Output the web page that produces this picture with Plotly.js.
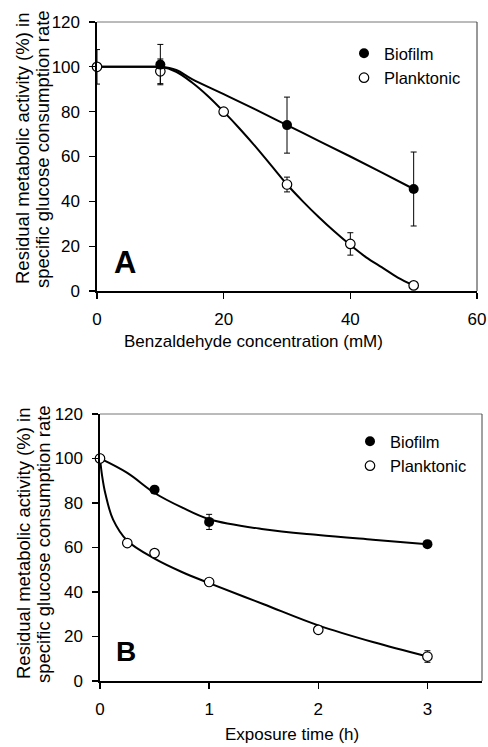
<!DOCTYPE html>
<html>
<head>
<meta charset="utf-8">
<script src="https://cdn.plot.ly/plotly-3.0.1.min.js"></script>
<style>html,body{margin:0;padding:0;background:#fff;}</style>
</head>
<body>
<div id="chart" style="width:488px;height:747px;"></div>
<script>
// ---------- Panel A data (Benzaldehyde concentration, mM) ----------
const concA = [0, 10, 20, 30, 40, 50];
const bioConcA = [10, 30, 50];
const bioValA = [101, 74, 45.5];
const bioErrA = [9, 12.5, 16.5];
const plankValA = [100, 98, 80, 47.5, 21, 2.5];
const plankErrA = [7.7, 5.5, 1.5, 3.3, 5, 1];
// fitted curves
const bioCurveXA = [0, 9, 10, 12.5, 15, 20, 25, 30, 35, 40, 45, 50];
const bioCurveYA = [100, 100, 100, 98.6, 94.5, 87.8, 81, 74, 67, 60, 52.8, 45.5];
const plankCurveXA = [0, 9, 10, 12.5, 15, 17.5, 20, 22.5, 25, 27.5, 30, 32.5, 35, 37.5, 40, 42.5, 45, 47.5, 50];
const plankCurveYA = [100, 100, 100, 97.8, 93, 87, 80, 72.5, 64.5, 56, 47.5, 40, 33, 26.5, 20.5, 15, 10.5, 6, 2.5];

// ---------- Panel B data (Exposure time, h) ----------
const bioTimeB = [0, 0.5, 1, 3];
const bioValB = [100, 86, 71.5, 61.5];
const bioErrB = [0, 0, 3.4, 1];
const plankTimeB = [0, 0.25, 0.5, 1, 2, 3];
const plankValB = [100, 62, 57.5, 44.5, 23, 11];
const plankErrB = [0, 0.8, 0.8, 1.5, 1.5, 2.6];
const bioCurveXB = [0, 0.25, 0.5, 0.75, 1, 1.5, 2, 2.5, 3];
const bioCurveYB = [100, 93.5, 84.5, 78, 72.7, 68.2, 65.6, 63.5, 61.5];
const plankCurveXB = [0, 0.02, 0.05, 0.12, 0.25, 0.5, 0.75, 1, 1.5, 2, 2.5, 3];
const plankCurveYB = [100, 92, 84, 72.5, 63, 55, 49, 44, 34.5, 25, 17.5, 11];

const yTicks = [0, 20, 40, 60, 80, 100, 120];
const xTicksA = [0, 20, 40, 60];
const xTicksB = [0, 1, 2, 3];

const labels = {
  yLine1: 'Residual metabolic activity (%) in',
  yLine2: 'specific glucose consumption rate',
  xA: 'Benzaldehyde concentration (mM)',
  xB: 'Exposure time (h)',
  bio: 'Biofilm',
  plank: 'Planktonic'
};

// ---------- layout helpers ----------
const W = 488, H = 747;
const px = x => x / W;
const py = y => 1 - y / H;
const FONT = 'Liberation Sans, Arial, Helvetica, sans-serif';

const curveLine = {color: 'black', width: 2, shape: 'spline', smoothing: 1};
const bioMarker = {symbol: 'circle', size: 10, color: 'black', line: {width: 0}};
const plankMarker = {symbol: 'circle', size: 9.5, color: 'white', line: {color: 'black', width: 1.2}};
const err = arr => ({type: 'data', array: arr, visible: true, color: 'black', thickness: 1, width: 3});

const traces = [
  // Panel A
  {x: bioCurveXA, y: bioCurveYA, xaxis: 'x', yaxis: 'y', mode: 'lines', line: curveLine, showlegend: false, hoverinfo: 'skip'},
  {x: plankCurveXA, y: plankCurveYA, xaxis: 'x', yaxis: 'y', mode: 'lines', line: curveLine, showlegend: false, hoverinfo: 'skip'},
  {x: concA, y: plankValA, error_y: err(plankErrA), xaxis: 'x', yaxis: 'y', mode: 'markers', marker: plankMarker,
   name: labels.plank, legend: 'legend', legendrank: 2, cliponaxis: false},
  {x: bioConcA, y: bioValA, error_y: err(bioErrA), xaxis: 'x', yaxis: 'y', mode: 'markers', marker: bioMarker,
   name: labels.bio, legend: 'legend', legendrank: 1, cliponaxis: false},
  // Panel B
  {x: bioCurveXB, y: bioCurveYB, xaxis: 'x2', yaxis: 'y2', mode: 'lines', line: curveLine, showlegend: false, hoverinfo: 'skip'},
  {x: plankCurveXB, y: plankCurveYB, xaxis: 'x2', yaxis: 'y2', mode: 'lines', line: curveLine, showlegend: false, hoverinfo: 'skip'},
  {x: bioTimeB, y: bioValB, error_y: err(bioErrB), xaxis: 'x2', yaxis: 'y2', mode: 'markers', marker: bioMarker,
   name: labels.bio, legend: 'legend2', legendrank: 1, cliponaxis: false},
  {x: plankTimeB, y: plankValB, error_y: err(plankErrB), xaxis: 'x2', yaxis: 'y2', mode: 'markers', marker: plankMarker,
   name: labels.plank, legend: 'legend2', legendrank: 2, cliponaxis: false}
];

const baseAxis = {
  showline: true, linecolor: 'black', linewidth: 1.6, mirror: false,
  showgrid: false, zeroline: false, ticks: 'outside', ticklen: 6, tickwidth: 1.3, tickcolor: 'black',
  tickfont: {family: FONT, size: 17, color: 'black'}, fixedrange: true
};

const legendCommon = {
  font: {family: FONT, size: 16.5, color: 'black'}, bgcolor: 'rgba(0,0,0,0)', borderwidth: 0,
  xanchor: 'left', yanchor: 'top', traceorder: 'normal', itemsizing: 'trace', tracegroupgap: 0
};

const layout = {
  width: W, height: H,
  margin: {l: 0, r: 0, t: 0, b: 0},
  paper_bgcolor: 'white', plot_bgcolor: 'white',
  font: {family: FONT, color: 'black'},
  xaxis: Object.assign({}, baseAxis, {domain: [px(97), px(477)], range: [0, 60], tickvals: xTicksA, anchor: 'y', ticklabelstandoff: 6}),
  yaxis: Object.assign({}, baseAxis, {domain: [py(291), py(22)], range: [0, 120], tickvals: yTicks, anchor: 'x', ticklabelstandoff: 6}),
  xaxis2: Object.assign({}, baseAxis, {domain: [px(100), px(482)], range: [0, 3.5], tickvals: xTicksB, anchor: 'y2', ticklabelstandoff: 6}),
  yaxis2: Object.assign({}, baseAxis, {domain: [py(681), py(414)], range: [0, 120], tickvals: yTicks, anchor: 'x2', ticklabelstandoff: 6}),
  legend: Object.assign({}, legendCommon, {x: px(344), y: py(36)}),
  legend2: Object.assign({}, legendCommon, {x: px(350), y: py(424)}),
  shapes: [
    {type: 'line', xref: 'x domain', yref: 'y domain', x0: 0, x1: 1, y0: 1, y1: 1, line: {color: '#777', width: 1}},
    {type: 'line', xref: 'x domain', yref: 'y domain', x0: 1, x1: 1, y0: 0, y1: 1, line: {color: '#333', width: 1}},
    {type: 'line', xref: 'x2 domain', yref: 'y2 domain', x0: 0, x1: 1, y0: 1, y1: 1, line: {color: '#777', width: 1}},
    {type: 'line', xref: 'x2 domain', yref: 'y2 domain', x0: 1, x1: 1, y0: 0, y1: 1, line: {color: '#444', width: 1}}
  ],
  annotations: [
    {text: labels.yLine1, xref: 'paper', yref: 'paper', x: px(22), y: py(149), textangle: -90, showarrow: false,
     xanchor: 'center', yanchor: 'middle', font: {family: FONT, size: 18.5, color: 'black'}},
    {text: labels.yLine2, xref: 'paper', yref: 'paper', x: px(42), y: py(149), textangle: -90, showarrow: false,
     xanchor: 'center', yanchor: 'middle', font: {family: FONT, size: 18.5, color: 'black'}},
    {text: labels.xA, xref: 'paper', yref: 'paper', x: px(254), y: py(342), showarrow: false,
     xanchor: 'center', yanchor: 'middle', font: {family: FONT, size: 17, color: 'black'}},
    {text: 'A', xref: 'paper', yref: 'paper', x: px(125), y: py(263), showarrow: false,
     xanchor: 'center', yanchor: 'middle', font: {family: FONT, size: 31, color: 'black', weight: 'bold'}},
    {text: labels.yLine1, xref: 'paper', yref: 'paper', x: px(23), y: py(544), textangle: -90, showarrow: false,
     xanchor: 'center', yanchor: 'middle', font: {family: FONT, size: 18.5, color: 'black'}},
    {text: labels.yLine2, xref: 'paper', yref: 'paper', x: px(43), y: py(544), textangle: -90, showarrow: false,
     xanchor: 'center', yanchor: 'middle', font: {family: FONT, size: 18.5, color: 'black'}},
    {text: labels.xB, xref: 'paper', yref: 'paper', x: px(292), y: py(734), showarrow: false,
     xanchor: 'center', yanchor: 'middle', font: {family: FONT, size: 17, color: 'black'}},
    {text: 'B', xref: 'paper', yref: 'paper', x: px(126), y: py(651), showarrow: false,
     xanchor: 'center', yanchor: 'middle', font: {family: FONT, size: 28, color: 'black', weight: 'bold'}}
  ]
};

Plotly.newPlot('chart', traces, layout, {displayModeBar: false, staticPlot: true});
</script>
</body>
</html>
